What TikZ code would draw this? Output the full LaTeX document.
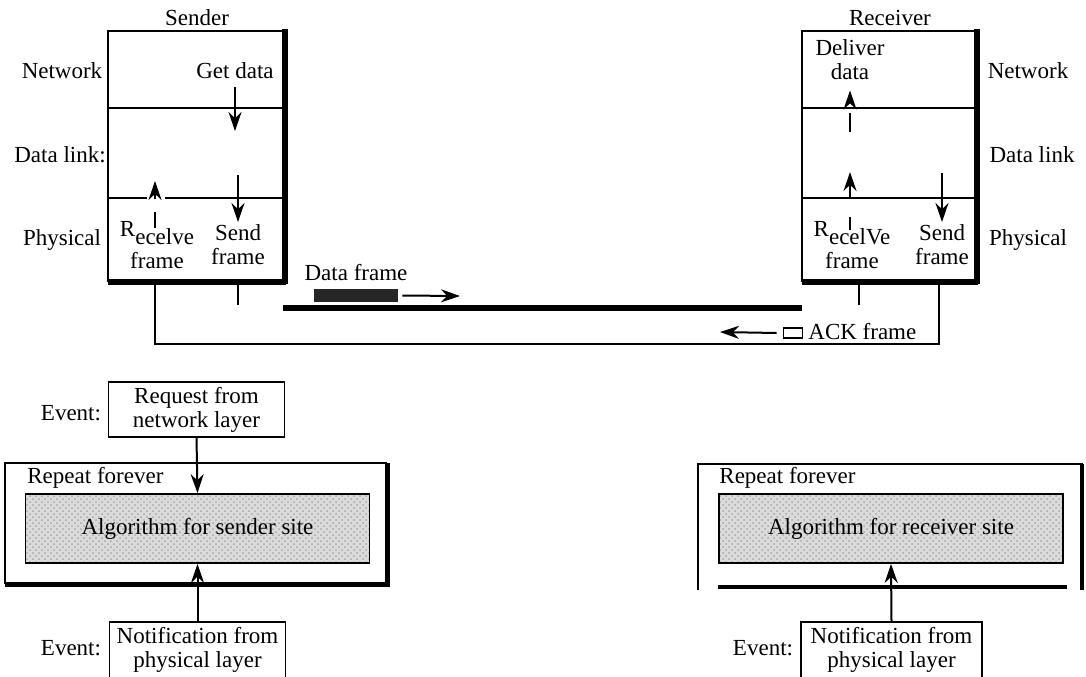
\documentclass[tikz,border=0pt]{standalone}
\usepackage{fontspec}
\setmainfont{Liberation Serif}
\usetikzlibrary{arrows.meta,patterns}
\begin{document}
\begin{tikzpicture}[x=0.5pt,y=-0.5pt,
  lbl/.style={inner sep=0pt, font=\fontsize{11.5}{12}\selectfont, align=center},
  thinln/.style={line width=0.9pt},
  heavy/.style={line width=3.4pt},
  arr/.style={line width=1pt,-{Stealth[length=9.5pt,width=6.5pt]}},
  shadebox/.style={draw, line width=0.9pt, preaction={fill=black!14},
    pattern=crosshatch dots, pattern color=black!35, inner sep=0pt,
    font=\fontsize{11.5}{12}\selectfont, minimum width=172pt, minimum height=34.5pt},
  evbox/.style={draw, line width=0.9pt, inner sep=0pt, align=center,
    font=\fontsize{11.5}{12}\selectfont, minimum width=88pt},
]
\useasboundingbox (0,0) rectangle (1086,676);

% ---------------- Sender stack ----------------
\draw[thinln] (284,31) -- (108,31) -- (108,282);
\draw[thinln] (108,108) -- (284,108);
\draw[thinln] (108,198) -- (147,198);
\draw[thinln] (165,198) -- (284,198);
\draw[heavy] (108,282) -- (286,282);
\draw[heavy] (285,29) -- (285,284);

\node[lbl] (sender) at (197,18) {Sender};
\node[lbl] (snet) at (62,71) {Network};
\node[lbl] (sdl) at (60,155) {Data link:};
\node[lbl] (sphy) at (62,240) {Physical};
\node[lbl] (getdata) at (235,71) {Get data};
\node[lbl] (srecv) at (157,245) {\raisebox{4pt}{R}ecelve\\frame};
\node[lbl] (ssend) at (238,245) {Send\\frame};

\coordinate (gdend) at (235,131);
\draw[arr] ([yshift=-4pt]getdata.south) -- (gdend);
\coordinate (sstop) at (238,175);
\coordinate (ssend2) at (238,222);
\draw[arr] (sstop) -- (ssend2);
\draw[thinln] (155,212) -- (155,228);
\coordinate (srbot) at (155,199);
\coordinate (srtip) at (155,181);
\draw[arr] (srbot) -- (srtip);

% ---------------- Receiver stack ----------------
\draw[thinln] (976,31) -- (802,31) -- (802,282);
\draw[thinln] (802,108) -- (976,108);
\draw[thinln] (802,198) -- (976,198);
\draw[heavy] (802,282) -- (978,282);
\draw[heavy] (977,29) -- (977,284);

\node[lbl] (receiver) at (890,18) {Receiver};
\node[lbl] (rnet) at (1028,71) {Network};
\node[lbl] (rdl) at (1032,155) {Data link};
\node[lbl] (rphy) at (1028,240) {Physical};
\node[lbl] (deliver) at (850,60) {Deliver\\data};
\node[lbl] (rrecv) at (852,245) {\raisebox{4pt}{R}ecelVe\\frame};
\node[lbl] (rsend) at (942,245) {Send\\frame};

\draw[thinln] (850,113) -- (850,132);
\coordinate (dvbot) at (850,102);
\draw[arr] (dvbot) -- ([yshift=-5pt]deliver.south);
\draw[thinln] (850,217) -- (850,230);
\coordinate (rrbot) at (850,199);
\coordinate (rrtip) at (850,172);
\draw[arr] (rrbot) -- (rrtip);
\coordinate (rstop) at (942,173);
\coordinate (rsend2) at (942,222);
\draw[arr] (rstop) -- (rsend2);

% ---------------- Link ----------------
\draw[thinln] (238,282) -- (238,305);
\draw[thinln] (859,282) -- (859,305);
\draw[thinln] (155,282) -- (155,344) -- (939,344) -- (939,282);
\draw[line width=3pt] (283,308) -- (802,308);

\node[lbl, anchor=base] (dflbl) at (356,280) {Data frame};
\node[fill=black!85, inner sep=0pt, minimum width=42pt, minimum height=6.5pt] (dframe) at (356,295.5) {};
\coordinate (dfarr) at (460,296);
\draw[arr] ([xshift=2pt]dframe.east) -- (dfarr);

\node[draw, line width=0.9pt, inner sep=0pt, minimum width=9.5pt, minimum height=5pt] (ackbox) at (793,333) {};
\node[lbl, anchor=west] (acklbl) at (808,332) {ACK frame};
\coordinate (ackarr) at (720,332);
\draw[arr] ([xshift=-3pt]ackbox.west) -- (ackarr);

% ---------------- Sender algorithm ----------------
\node[lbl] (sev1) at (71,413) {Event:};
\node[evbox, minimum height=27.5pt] (sreq) at (196.5,409.5) {Request from\\network layer};
\draw[thinln] (5,463) rectangle (386,583);
\draw[line width=1.8pt] (388,463) -- (388,585) -- (5,585);
\node[lbl, anchor=west] (srep) at (27,478) {Repeat forever};
\node[shadebox] (salg) at (197.5,528.5) {Algorithm for sender site};
\draw[arr] (sreq.south) -- (salg.north);
\node[lbl] (sev2) at (71,648) {Event:};
\node[evbox, minimum height=28pt] (snot) at (197.5,650) {Notification from\\physical layer};
\draw[arr] (snot.north) -- (salg.south);

% ---------------- Receiver algorithm ----------------
\draw[thinln] (1083,464) -- (698,464) -- (698,590);
\draw[line width=2.4pt] (1082,464) -- (1082,590);
\draw[line width=2.2pt] (718,587) -- (1067,587);
\node[lbl, anchor=west] (rrep) at (719,478) {Repeat forever};
\node[shadebox] (ralg) at (891,528.5) {Algorithm for receiver site};
\node[lbl] (rev) at (763,648) {Event:};
\node[evbox, minimum width=90.5pt, minimum height=28pt] (rnot) at (891.5,650) {Notification from\\physical layer};
\draw[arr] (rnot.north) -- (ralg.south);
\end{tikzpicture}
\end{document}
